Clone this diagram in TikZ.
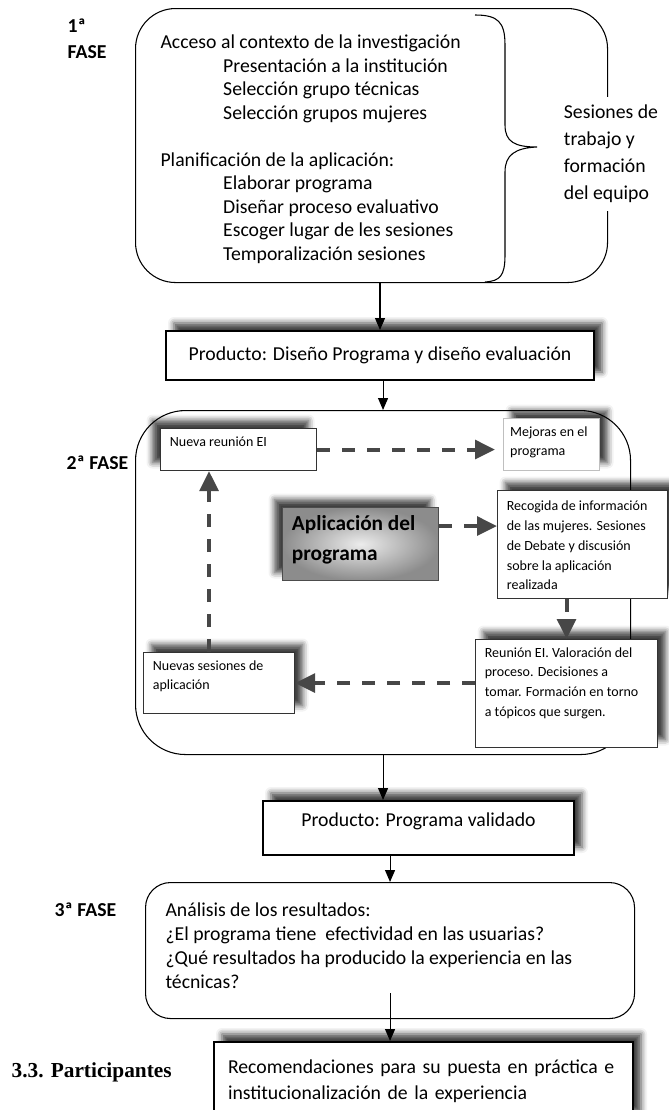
\documentclass[tikz,border=0pt]{standalone}
\usepackage{fontspec}
\setmainfont{Carlito}
\newfontfamily\titlefont{Liberation Serif}
\usetikzlibrary{positioning,arrows.meta,shadows.blur}

\newcommand{\ind}{\hspace*{47pt}}
\newcommand{\toptext}[3]{\parbox[c][#2][t]{#1}{\raggedright #3}}

\begin{document}
\begin{tikzpicture}[x=0.75pt, y=-0.75pt,
    main/.style={font=\fontsize{14.8}{17.6}\selectfont},
    small/.style={font=\fontsize{10.5}{14.8}\selectfont},
    fase/.style={font=\fontsize{14.8}{19.5}\selectfont\bfseries, align=left},
    phasebox/.style={draw, line width=0.8pt, anchor=north west, inner sep=0pt},
    prodbox/.style={draw, line width=1.5pt, fill=white, anchor=north west, main, shadowR},
    smallbox/.style={draw=black!80, line width=0.8pt, fill=white, anchor=north west, inner xsep=7pt, inner ysep=6pt, small},
    shadowR/.style={blur shadow={shadow xshift=6pt, shadow yshift=6pt, shadow blur radius=4.5pt, shadow opacity=75}},
    shadowL/.style={blur shadow={shadow xshift=-6pt, shadow yshift=6pt, shadow blur radius=4.5pt, shadow opacity=75}},
    arr/.style={line width=0.8pt, -{Triangle[length=9pt,width=7.5pt]}},
    dasharr/.style={draw=black!72, line width=3pt, dash pattern=on 9.75pt off 9pt, -{Triangle[length=15pt,width=14pt]}}]

    \useasboundingbox (0,0) rectangle (668,1110);

    % Fase 1
    \node[fase, anchor=north west] (lab1) at (63,14) {1ª\\FASE};
    \node[phasebox, rounded corners=30pt, main, inner xsep=18.75pt, inner ysep=20pt] (fase1) at (135,8)
        {\toptext{316.5pt}{165.5pt}{Acceso al contexto de la investigación\\
         \ind Presentación a la institución\\
         \ind Selección grupo técnicas\\
         \ind Selección grupos mujeres\\[17.6pt]
         Planificación de la aplicación:\\
         \ind Elaborar programa\\
         \ind Diseñar proceso evaluativo\\
         \ind Escoger lugar de les sesiones\\
         \ind Temporalización sesiones}};
    \draw[line width=0.8pt] (475,15) .. controls (498,15) and (505,22) .. (505,45) -- (505,125)
        .. controls (505,142) and (515,147) .. (537,147) .. controls (515,148) and (505,155) .. (505,172)
        -- (505,255) .. controls (505,276) and (500,281) .. (485,282);
    \node[fill=white, anchor=west, align=left, inner xsep=2pt, inner ysep=6pt, font=\fontsize{14.8}{20.25}\selectfont] (sesiones) at (561,154)
        {Sesiones de\\trabajo y\\formación\\del equipo};

    % Producto 1
    \node[prodbox, minimum width=321pt, minimum height=36.75pt] (prod1) at (165,330) {Producto: Diseño Programa y diseño evaluación};
    \draw[arr] (fase1.south -| prod1.north) -- (prod1.north);

    % Fase 2
    \node[fase, anchor=west] (lab2) at (62,463) {2ª FASE};
    \node[phasebox, rounded corners=37.5pt, minimum width=371.25pt, minimum height=258pt] (fase2) at (135,410) {};
    \draw[arr] (prod1.south -| fase2.north) -- (fase2.north);

    \node[smallbox, shadowL] (nueva) at (160,428) {\toptext{103pt}{19.5pt}{Nueva reunión EI}};
    \node[smallbox, draw=black!25, inner xsep=5pt, shadowR] (mejoras) at (503,418) {\toptext{62pt}{27pt}{Mejoras en el\\programa}};
    \node[smallbox, draw=black!70, shadowL, inner color=gray!15, outer color=gray!90, font=\fontsize{16}{22.5}\selectfont\bfseries] (aplica) at (282,507)
        {\toptext{103pt}{42.75pt}{Aplicación del\\programa}};
    \node[smallbox, inner ysep=8pt, shadowR] (recogida) at (497,490)
        {\toptext{113.5pt}{65pt}{Recogida de información\\de las mujeres. Sesiones\\de Debate y discusión\\sobre la aplicación\\realizada}};
    \node[smallbox, shadowR] (reunion) at (475,639)
        {\toptext{122.5pt}{69pt}{Reunión EI. Valoración del\\proceso. Decisiones a\\tomar. Formación en torno\\a tópicos que surgen.}};
    \node[smallbox, shadowR] (nuevas) at (143,652) {\toptext{99.25pt}{33.75pt}{Nuevas sesiones de\\aplicación}};

    % Dashed arrows
    \draw[dasharr, shorten >=6pt] (nueva.east) -- (nueva.east -| mejoras.west);
    \draw[dasharr] ([yshift=13.5pt]aplica.east) -- ([yshift=13.5pt]aplica.east -| recogida.west);
    \draw[dasharr] (recogida.south -| reunion.north) -- (reunion.north);
    \draw[dasharr] (nuevas.east -| reunion.west) -- (nuevas.east);
    \draw[dasharr] ([xshift=-7.5pt]nuevas.north) -- ([xshift=-7.5pt]nuevas.north |- nueva.south);

    % Producto 2
    \node[prodbox, inner sep=9pt] (prod2) at (262,800) {\parbox[c][22.5pt][t]{215.25pt}{\centering Producto: Programa validado}};
    \draw[arr] (fase2.south) -- (fase2.south |- prod2.north);

    % Fase 3
    \node[fase, anchor=west] (lab3) at (50,910) {3ª FASE};
    \node[phasebox, rounded corners=18.75pt, inner xsep=15pt, inner ysep=15pt, font=\fontsize{14.8}{18}\selectfont] (fase3) at (145,882)
        {\toptext{336.75pt}{72pt}{Análisis de los resultados:\\
         ¿El programa tiene\ \ efectividad en las usuarias?\\
         ¿Qué resultados ha producido la experiencia en las\\
         técnicas?}};
    \draw[arr] (prod2.south -| fase3.north) -- (fase3.north);

    \node[prodbox, align=left, text width=293.25pt, inner xsep=10.5pt, minimum height=58.5pt, font=\fontsize{14.8}{19.5}\selectfont] (recom) at (213,1041)
        {Recomendaciones para su puesta en práctica e\\institucionalización de la experiencia};
    \draw[arr] ([yshift=19.5pt]fase3.south) -- (fase3.south |- recom.north);

    \node[anchor=west, font=\titlefont\bfseries\fontsize{16}{19}\selectfont] (part) at (7,1072) {3.3. Participantes};
\end{tikzpicture}
\end{document}
